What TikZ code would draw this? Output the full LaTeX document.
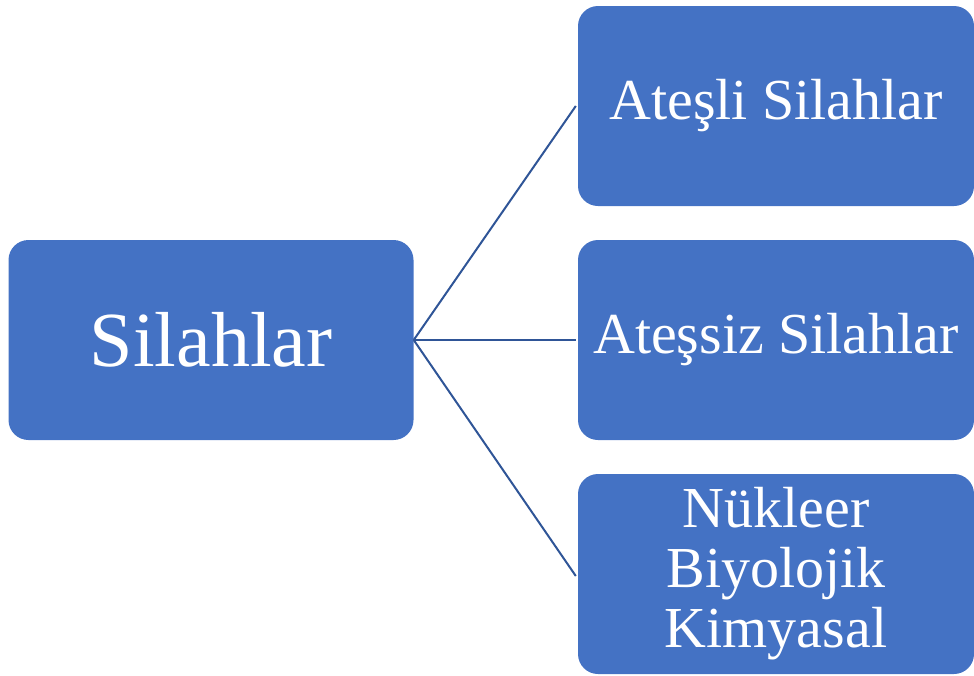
\documentclass[tikz,border=0pt]{standalone}
\usepackage{fontspec}
\setmainfont{Liberation Serif}
\definecolor{boxblue}{HTML}{4472C4}
\definecolor{lineblue}{HTML}{2F5597}
\begin{document}
\begin{tikzpicture}[x=1pt,y=-1pt,
  box/.style={fill=boxblue, draw=none, rounded corners=20pt, text=white,
    minimum width=#1, minimum height=200pt, inner sep=0pt, align=center},
  box/.default=396pt,
  conn/.style={draw=lineblue, line width=2pt}]
\useasboundingbox (0,0) rectangle (974,675);
\node[box=405pt, font=\fontsize{78}{80}\selectfont] (root) at (211,340) {Silahlar};
\node[box, font=\fontsize{58}{60}\selectfont] (a) at (776,106) {Ateşli Silahlar};
\node[box, font=\fontsize{58}{60}\selectfont] (b) at (776,340) {Ateşsiz Silahlar};
\node[box, font=\fontsize{58}{60}\selectfont] (c) at (776,574) {Nükleer\\Biyolojik\\Kimyasal};
\coordinate (hub) at (root.east);
\draw[conn] (hub) -- ([xshift=-2pt]a.west);
\draw[conn] (hub) -- ([xshift=-2pt]b.west);
\draw[conn] (hub) -- ([xshift=-2pt,yshift=-2pt]c.west);
\end{tikzpicture}
\end{document}
